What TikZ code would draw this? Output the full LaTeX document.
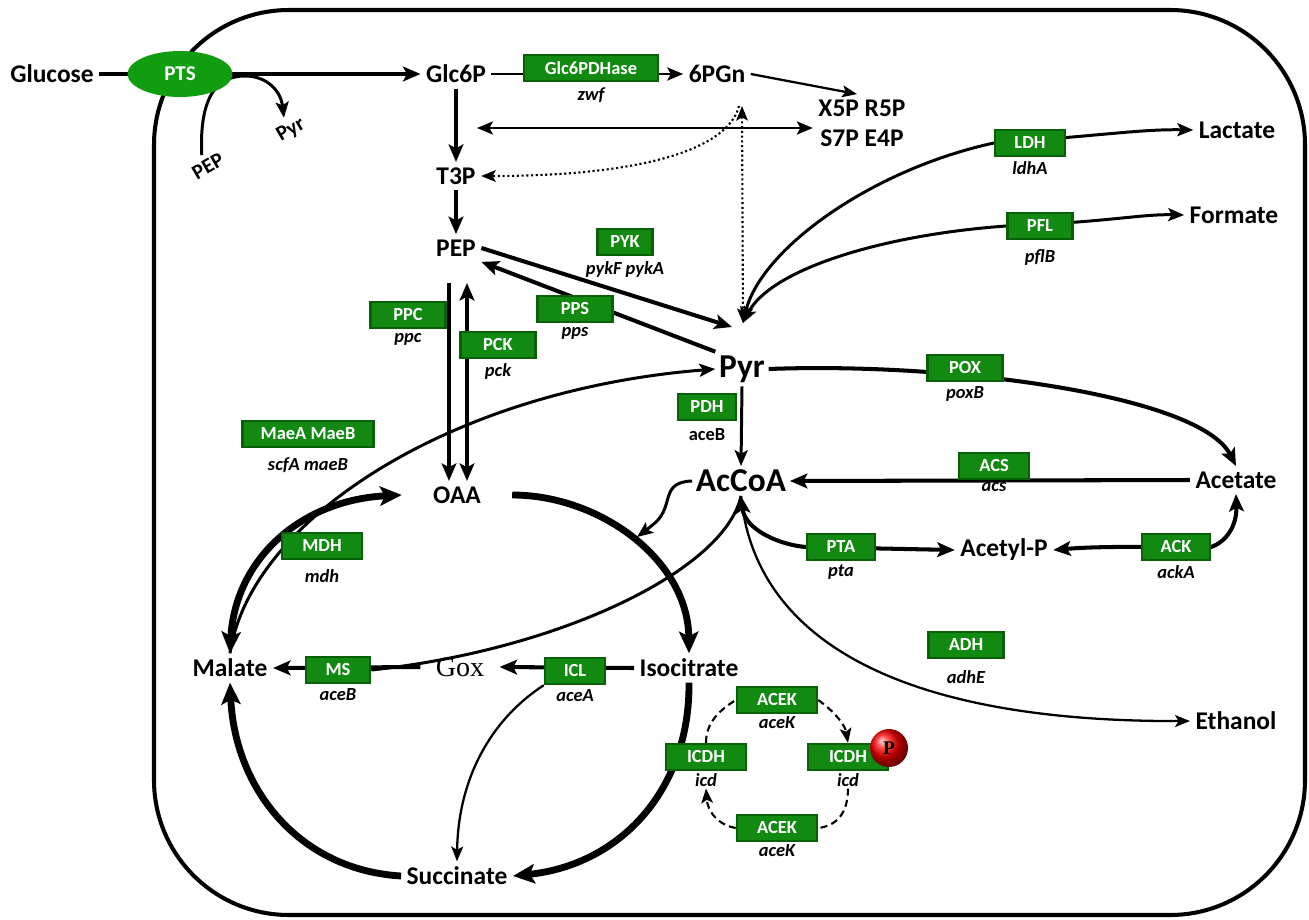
\documentclass[tikz,border=0pt]{standalone}
\usepackage{fontspec}
\setmainfont{Carlito}
\newfontfamily\goxfont{Liberation Serif}
\usetikzlibrary{arrows.meta,positioning,backgrounds,shapes}
\definecolor{enzgreen}{RGB}{18,138,18}
\definecolor{enzdark}{RGB}{8,96,8}
\definecolor{ptsgreen}{RGB}{16,158,16}
\tikzset{
    %Define standard arrow tip
    >={Stealth[length=6.5pt 1.5, width=4.7pt 1.6, inset=1.5pt 0.3]},
    metab/.style={
      font=\bfseries\fontsize{14.5}{17}\selectfont,
      inner sep=3pt,
      align=center},
    bigmetab/.style={
      metab,
      font=\bfseries\fontsize{19}{22}\selectfont},
    smallmetab/.style={
      metab,
      font=\bfseries\fontsize{12}{14}\selectfont,
      rotate=30},
    enzyme/.style={
      rectangle,
      fill=enzgreen,
      draw=enzdark, line width=1.4pt,
      text=white,
      font=\bfseries\fontsize{10.5}{12}\selectfont,
      minimum width=1.5cm,
      minimum height=0.52cm,
      inner sep=1pt},
    gene/.style={
      font=\bfseries\itshape\fontsize{10.5}{12}\selectfont,
      inner sep=1pt},
    ptsnode/.style={
      ellipse,
      fill=ptsgreen,
      text=white,
      font=\bfseries\fontsize{12}{14}\selectfont,
      minimum width=2.1cm,
      minimum height=0.92cm},
    phos/.style={
      circle, shade, ball color=red,
      minimum size=0.76cm, inner sep=0pt,
      font=\goxfont\bfseries\fontsize{11}{12}\selectfont},
    %Line widths of the fluxes
    flux/.style={line width=2.3pt},
    tcaflux/.style={line width=3.9pt},
    medflux/.style={line width=1.7pt},
    thinflux/.style={line width=1.3pt},
    dotflux/.style={line width=1.2pt, dash pattern=on 1.2pt off 1.5pt},
    regul/.style={line width=1.2pt, dash pattern=on 4pt off 2.5pt}
}
\begin{document}
\begin{tikzpicture}[x=0.02cm, y=-0.02cm]
    \useasboundingbox (0,0) rectangle (1309,920);
    % metabolites
    \node (glucose) [metab] at (52,74) {Glucose};
    \node (pts) [ptsnode] at (180,74) {PTS};
    \node (pepext) [smallmetab] at (208,166) {PEP};
    \node (pyrext) [smallmetab] at (291,130) {Pyr};
    \node (glcsix) [metab] at (456,74) {Glc6P};
    \node (pgn) [metab] at (717,74) {6PGn};
    \node (pentose) [metab] at (862,123) {X5P R5P\\S7P E4P};
    \node (tthreep) [metab] at (456,176) {T3P};
    \node (pep) [metab] at (456,248) {PEP};
    \node (pyr) [bigmetab, inner sep=2pt] at (742,369) {Pyr};
    \node (accoa) [bigmetab, inner sep=2pt] at (741,481) {AcCoA};
    \node (oaa) [metab, inner xsep=0.62cm] at (457,495) {OAA};
    \node (malate) [metab] at (230,668) {Malate};
    \node (gox) [metab, font=\goxfont\fontsize{16}{18}\selectfont, inner xsep=0.3cm] at (460,667) {Gox};
    \node (isocit) [metab] at (689,668) {Isocitrate};
    \node (succ) [metab] at (457,876) {Succinate};
    \node (lactate) [metab] at (1237,130) {Lactate};
    \node (formate) [metab] at (1234,215) {Formate};
    \node (acetate) [metab] at (1236,480) {Acetate};
    \node (acetylp) [metab] at (1004,550) {Acetyl-P};
    \node (ethanol) [metab] at (1236,721) {Ethanol};
    \coordinate (pyrtop) at (743,323);
    \coordinate (pyrin) at (732,327);
    \coordinate (dtop) at (742,106);
    \coordinate (ppsrc) at (477,128);
    \coordinate (ppctop) at (449,283);
    \coordinate (pcktop) at (467,283);
    \coordinate (tcain) at (637,537);
    % enzymes and genes
    \node (gsixpdh) [enzyme, minimum width=2.68cm] at (591,68) {Glc6PDHase};
    \node (zwf) [gene] [below=2pt of gsixpdh] {zwf};
    \node (pyk) [enzyme, minimum width=1.1cm] at (625,242) {PYK};
    \node (pykg) [gene] [below=2pt of pyk] {pykF pykA};
    \node (pps) [enzyme] at (575,309) {PPS};
    \node (ppsg) [gene] [below=1pt of pps] {pps};
    \node (ppc) [enzyme] at (408,315) {PPC};
    \node (ppcg) [gene] [below=1pt of ppc] {ppc};
    \node (pck) [enzyme] at (498,345) {PCK};
    \node (pckg) [gene] [below=1pt of pck] {pck};
    \node (mae) [enzyme, minimum width=2.62cm] at (308,434) {MaeA MaeB};
    \node (maeg) [gene] [below=4pt of mae] {scfA maeB};
    \node (pdh) [enzyme, minimum width=1.15cm] at (707,407) {PDH};
    \node (pdhg) [gene, font=\bfseries\fontsize{10.5}{12}\selectfont] [below=3pt of pdh] {aceB};
    \node (mdh) [enzyme, minimum width=1.6cm] at (322,546) {MDH};
    \node (mdhg) [gene] [below=4pt of mdh] {mdh};
    \node (ms) [enzyme, minimum width=1.28cm] at (338,670) {MS};
    \node (msg) [gene] [below=1pt of ms] {aceB};
    \node (icl) [enzyme, minimum width=1.2cm] at (575,671) {ICL};
    \node (iclg) [gene] [below=1pt of icl] {aceA};
    \node (acekt) [enzyme, minimum width=1.6cm] at (777,700) {ACEK};
    \node (acektg) [gene] [below=0pt of acekt] {aceK};
    \node (icdhl) [enzyme, minimum width=1.6cm] at (706,757) {ICDH};
    \node (icdlg) [gene] [below=0pt of icdhl] {icd};
    \node (icdhr) [enzyme, minimum width=1.6cm] at (848,757) {ICDH};
    \node (icdrg) [gene] [below=0pt of icdhr] {icd};
    \node (pball) [phos] at (889,748) {P};
    \node (acekb) [enzyme, minimum width=1.6cm] at (777,828) {ACEK};
    \node (acekbg) [gene] [below=0pt of acekb] {aceK};
    \node (ldh) [enzyme, minimum width=1.4cm] at (1030,143) {LDH};
    \node (ldhg) [gene] [below=1pt of ldh] {ldhA};
    \node (pfl) [enzyme, minimum width=1.3cm] at (1040,226) {PFL};
    \node (pflg) [gene] [below=4pt of pfl] {pflB};
    \node (pox) [enzyme] at (965,368) {POX};
    \node (poxg) [gene] [below=1pt of pox] {poxB};
    \node (acs) [enzyme, minimum width=1.4cm] at (994,466) {ACS};
    \node (acsg) [gene] [below=0pt of acs] {acs};
    \node (pta) [enzyme, minimum width=1.35cm] at (841,547) {PTA};
    \node (ptag) [gene] [below=1pt of pta] {pta};
    \node (ack) [enzyme, minimum width=1.35cm] at (1176,547) {ACK};
    \node (ackg) [gene] [below=1pt of ack] {ackA};
    \node (adh) [enzyme] at (966,645) {ADH};
    \node (adhg) [gene] [below=5pt of adh] {adhE};
    \begin{scope}[on background layer]
    % cell envelope
    \draw[line width=2.3pt, rounded corners=2.7cm] (154,10) rectangle (1305,915);
    % glycolysis and pentose phosphates
    \draw[flux,->] (glucose) -- (glcsix);
    \draw[medflux,->] (pepext.north) .. controls (199,95) and (218,76) .. (245,76)
          .. controls (268,76) and (281,92) .. (pyrext.north);
    \draw[flux,->] (glcsix) -- (tthreep);
    \draw[flux,->] (tthreep) -- (pep);
    \draw[medflux,->] (glcsix) -- (pgn);
    \draw[thinflux,->] (pgn.east) -- ([xshift=-0.1cm]pentose.north);
    \draw[medflux,<->] (ppsrc) -- (pentose.west |- ppsrc);
    \draw[dotflux,<->] (dtop) -- (pyrtop);
    \draw[dotflux,->] ([xshift=-0.06cm]dtop) .. controls (728,150) and (640,176) .. (tthreep.east);
    \draw[flux,->] (pep.east) -- (pyrin);
    \draw[flux,->] (pyr.north west) -- (pep.south east);
    \draw[flux,->] (ppctop) -- (ppctop |- oaa.north);
    \draw[flux,<->] (pcktop) -- (pcktop |- oaa.north);
    \draw[medflux,->] (malate.north) .. controls (250,520) and (450,390) .. (pyr.west);
    % TCA cycle and glyoxylate shunt
    \draw[tcaflux,<->] (malate.north) .. controls (235,560) and (300,500) .. (oaa.west);
    \draw[tcaflux,->] (oaa.east) .. controls (600,495) and (688,560) .. (isocit.north);
    \draw[tcaflux,->] (isocit.south) .. controls (690,790) and (620,865) .. (succ.east);
    \draw[tcaflux,->] (succ.west) .. controls (300,870) and (235,790) .. (malate.south);
    \draw[medflux,->] (accoa.west) .. controls (660,482) and (674,505) .. (656,522)
          .. controls (649,528) and (645,531) .. (tcain);
    \draw[flux,->] (isocit.west) -- (gox.east);
    \draw[flux,->] (gox.west) -- (malate.east);
    \draw[medflux] (accoa.south) .. controls (725,570) and (560,650) .. (ms.east);
    \draw[thinflux,->] (icl.south west) .. controls (490,720) and (458,780) .. (succ.north);
    % pyruvate node
    \draw[medflux,->] (pyr.south) -- (accoa.north);
    \draw[flux,->] (pyr.east) .. controls (950,362) and (1200,395) .. (acetate.north);
    \draw[flux,->] (acetate.west) -- (accoa.east);
    \draw[flux,<->] (accoa.south) .. controls (745,530) and (780,545) .. (pta.west)
          -- (acetylp.west);
    \draw[flux,<->] (acetylp.east) .. controls (1100,546) and (1150,547) .. (ack.east)
          .. controls (1226,542) and (1237,526) .. (acetate.south);
    \draw[thinflux,->] (accoa.south) .. controls (755,640) and (900,722) .. (ethanol.west);
    \draw[medflux,<->] (pyrtop) .. controls (760,250) and (870,170) .. (ldh.west)
          .. controls (1100,136) and (1140,129) .. (lactate.west);
    \draw[medflux,<->] (pyrtop) .. controls (770,270) and (880,235) .. (pfl.west)
          .. controls (1110,222) and (1140,214) .. (formate.west);
    % ICDH phosphorylation cycle
    \draw[regul] (icdhl.north) .. controls (706,722) and (720,710) .. (acekt.west);
    \draw[regul,->] (acekt.east) .. controls (835,712) and (845,725) .. (icdhr.north);
    \draw[regul] (icdrg.south) .. controls (848,815) and (835,826) .. (acekb.east);
    \draw[regul,->] (acekb.west) .. controls (722,826) and (708,815) .. (icdlg.south);
    \end{scope}
\end{tikzpicture}
\end{document}
